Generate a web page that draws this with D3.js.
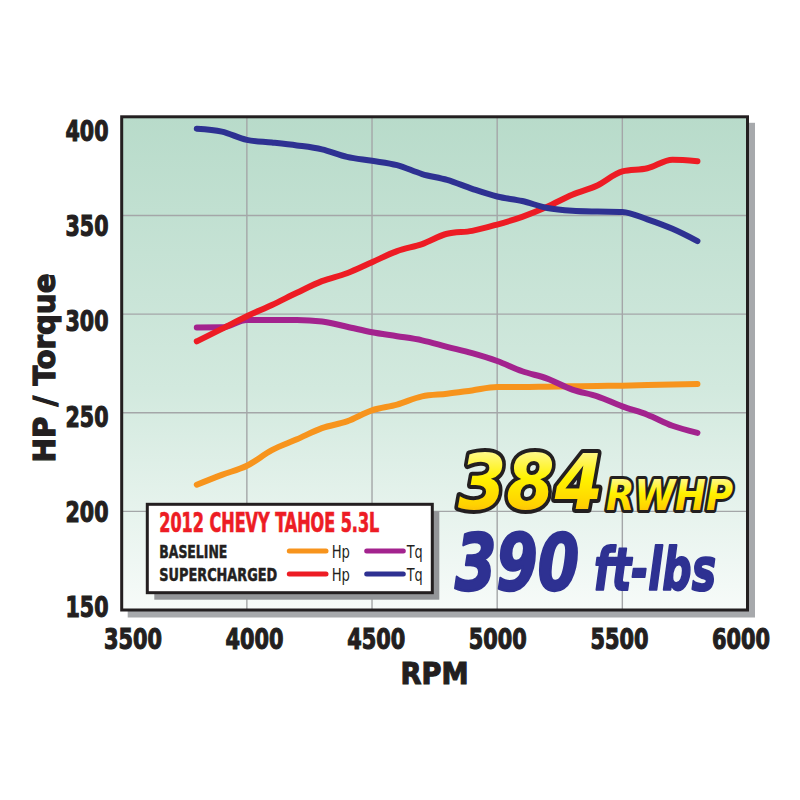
<!DOCTYPE html>
<html>
<head>
<meta charset="utf-8">
<script src="https://cdn.jsdelivr.net/npm/d3@7"></script>
<style>
  html, body { margin: 0; padding: 0; background: #ffffff; }
  svg { display: block; }
</style>
</head>
<body>
<svg id="chart" width="800" height="800"></svg>
<script>
// ---------------- DATA ----------------
const rpm = [3800, 3900, 4000, 4100, 4200, 4300, 4400, 4500, 4600, 4700, 4800,
             4900, 5000, 5100, 5200, 5300, 5400, 5500, 5600, 5700, 5800];
const baselineHp = [213.5, 218.5, 223.1, 231.0, 236.5, 242.2, 245.6, 251.2, 254.1, 258.3, 259.6,
                    261.3, 263.0, 263.0, 263.2, 263.4, 263.6, 263.7, 264.0, 264.3, 264.6];
const baselineTq = [293.2, 293.3, 297.0, 297.0, 297.0, 296.2, 293.6, 290.8, 288.8, 286.7, 283.4,
                    280.2, 276.2, 271.0, 267.3, 261.7, 258.3, 253.2, 249.0, 243.4, 239.8];
const superHp = [286.2, 292.5, 298.9, 304.6, 310.8, 316.7, 320.7, 326.3, 331.9, 335.5, 340.7,
                 342.2, 345.4, 349.3, 354.4, 360.5, 365.2, 372.3, 373.9, 378.2, 377.5];
const superTq = [394.0, 392.5, 388.3, 387.0, 385.5, 383.5, 379.7, 377.7, 375.5, 371.0, 368.0,
                 363.5, 359.6, 357.3, 353.8, 352.4, 352.0, 351.8, 348.0, 343.2, 337.0];
const xTicks = [3500, 4000, 4500, 5000, 5500, 6000];
const yTicks = [150, 200, 250, 300, 350, 400];
const chartTitle = "2012 CHEVY TAHOE 5.3L";
const rowLabels = ["BASELINE", "SUPERCHARGED"];
const seriesLabels = ["Hp", "Tq"];
const hpHeadline = "384", hpUnit = "RWHP";
const tqHeadline = "390", tqUnit = "ft-lbs";

// ---------------- LAYOUT ----------------
const svg = d3.select("#chart");
const P = { left: 121.7, right: 747.5, top: 116.8, bottom: 610 };
const x = d3.scaleLinear().domain([3500, 6000]).range([P.left, P.right]);
const y = d3.scaleLinear().domain([150, 400]).range([P.bottom, P.top]);
// tick labels are spread slightly inside the frame in the original artwork
const xLab = d3.scaleLinear().domain([3500, 6000]).range([133, 741]);
const yLab = d3.scaleLinear().domain([150, 400]).range([606.7, 130]);

const condensed = "'Liberation Sans Narrow', 'DejaVu Sans Condensed', 'Roboto', sans-serif";
const heavy = "'DejaVu Sans', 'Roboto', sans-serif";
const ink = "#231f20";

const defs = svg.append("defs");
const bg = defs.append("linearGradient").attr("id", "bg").attr("x1", 0).attr("y1", 0).attr("x2", 0).attr("y2", 1);
bg.append("stop").attr("offset", "0%").attr("stop-color", "#b8dbca");
bg.append("stop").attr("offset", "55%").attr("stop-color", "#d2e9de");
bg.append("stop").attr("offset", "100%").attr("stop-color", "#f7fbf9");
const yel = defs.append("linearGradient").attr("id", "yel").attr("x1", 0).attr("y1", 0).attr("x2", 0).attr("y2", 1);
yel.append("stop").attr("offset", "0%").attr("stop-color", "#fffbd0");
yel.append("stop").attr("offset", "45%").attr("stop-color", "#fff200");
yel.append("stop").attr("offset", "75%").attr("stop-color", "#ffd200");
yel.append("stop").attr("offset", "100%").attr("stop-color", "#f7941d");

// shadow + plot panel
svg.append("rect")
  .attr("x", P.left + 6).attr("y", P.top + 6)
  .attr("width", P.right - P.left + 1.5).attr("height", P.bottom - P.top + 1.5)
  .attr("fill", "#a7a9ac");
svg.append("rect")
  .attr("x", P.left).attr("y", P.top)
  .attr("width", P.right - P.left).attr("height", P.bottom - P.top)
  .attr("fill", "url(#bg)");

// grid
const grid = svg.append("g").attr("stroke", "#a4a6a8").attr("stroke-width", 1.4);
grid.selectAll("line.gx").data(xTicks.slice(1, -1)).join("line")
  .attr("x1", d => x(d)).attr("x2", d => x(d)).attr("y1", P.top).attr("y2", P.bottom);
grid.selectAll("line.gy").data(yTicks.slice(1, -1)).join("line")
  .attr("y1", d => y(d)).attr("y2", d => y(d)).attr("x1", P.left).attr("x2", P.right);

// series
const series = [
  { vals: baselineHp, color: "#f7941d" },
  { vals: baselineTq, color: "#a3238e" },
  { vals: superHp, color: "#ed1c24" },
  { vals: superTq, color: "#2e3192" }
];
const line = d3.line().x(d => x(d[0])).y(d => y(d[1])).curve(d3.curveMonotoneX);
svg.append("g").selectAll("path").data(series).join("path")
  .attr("d", s => line(rpm.map((r, i) => [r, s.vals[i]])))
  .attr("fill", "none").attr("stroke", s => s.color)
  .attr("stroke-width", 6).attr("stroke-linecap", "round").attr("stroke-linejoin", "round");

// frame
svg.append("rect")
  .attr("x", P.left).attr("y", P.top)
  .attr("width", P.right - P.left).attr("height", P.bottom - P.top)
  .attr("fill", "none").attr("stroke", ink).attr("stroke-width", 3);

// tick labels
svg.append("g").selectAll("text").data(xTicks).join("text")
  .attr("x", d => xLab(d)).attr("y", 649)
  .attr("text-anchor", "middle")
  .attr("font-family", condensed).attr("font-weight", "bold").attr("font-size", 29)
  .attr("fill", ink).attr("stroke", ink).attr("stroke-width", 1.1)
  .attr("textLength", 58).attr("lengthAdjust", "spacingAndGlyphs")
  .text(d => d);
svg.append("g").selectAll("text").data(yTicks).join("text")
  .attr("x", 108.5).attr("y", d => yLab(d) + 10.5)
  .attr("text-anchor", "end")
  .attr("font-family", condensed).attr("font-weight", "bold").attr("font-size", 29)
  .attr("fill", ink).attr("stroke", ink).attr("stroke-width", 1.1)
  .attr("textLength", 43).attr("lengthAdjust", "spacingAndGlyphs")
  .text(d => d);

// axis titles
svg.append("text")
  .attr("x", 434.5).attr("y", 684)
  .attr("text-anchor", "middle")
  .attr("font-family", heavy).attr("font-weight", "bold").attr("font-size", 30)
  .attr("fill", ink).attr("stroke", ink).attr("stroke-width", 1.2)
  .attr("textLength", 68).attr("lengthAdjust", "spacingAndGlyphs")
  .text("RPM");
svg.append("text")
  .attr("transform", "translate(55,368) rotate(-90)")
  .attr("text-anchor", "middle")
  .attr("font-family", heavy).attr("font-weight", "bold").attr("font-size", 30)
  .attr("fill", ink).attr("stroke", ink).attr("stroke-width", 1.2)
  .attr("textLength", 189).attr("lengthAdjust", "spacingAndGlyphs")
  .text("HP / Torque");

// legend
const L = { x: 147.3, y: 504.3, w: 285, h: 88.4 };
svg.append("rect").attr("x", L.x + 7).attr("y", L.y + 7).attr("width", L.w).attr("height", L.h)
  .attr("fill", "#939598");
svg.append("rect").attr("x", L.x).attr("y", L.y).attr("width", L.w).attr("height", L.h)
  .attr("fill", "#ffffff").attr("stroke", ink).attr("stroke-width", 3);
svg.append("text").attr("x", 159.3).attr("y", 532)
  .attr("font-family", condensed).attr("font-weight", "bold").attr("font-size", 26)
  .attr("fill", "#ed1c24").attr("stroke", "#ed1c24").attr("stroke-width", 0.7)
  .attr("textLength", 220).attr("lengthAdjust", "spacingAndGlyphs")
  .text(chartTitle);
const rowY = [551, 574];
const rowW = [68, 118];
const legendColors = [[series[0].color, series[1].color], [series[2].color, series[3].color]];
rowLabels.forEach((lab, r) => {
  svg.append("text").attr("x", 159.3).attr("y", rowY[r] + 7.3)
    .attr("font-family", condensed).attr("font-weight", "bold").attr("font-size", 18.5)
    .attr("fill", ink).attr("stroke", ink).attr("stroke-width", 0.5)
    .attr("textLength", rowW[r]).attr("lengthAdjust", "spacingAndGlyphs")
    .text(lab);
  [[289.3, 326, 331.7, 18.3], [366.7, 403.3, 406.7, 16]].forEach((c, k) => {
    svg.append("line").attr("x1", c[0]).attr("x2", c[1]).attr("y1", rowY[r]).attr("y2", rowY[r])
      .attr("stroke", legendColors[r][k]).attr("stroke-width", 5).attr("stroke-linecap", "round");
    svg.append("text").attr("x", c[2]).attr("y", rowY[r] + 7.3)
      .attr("font-family", condensed).attr("font-size", 18.5)
      .attr("fill", ink).attr("textLength", c[3]).attr("lengthAdjust", "spacingAndGlyphs")
      .text(seriesLabels[k]);
  });
});

// headline figures
const big = "'DejaVu Sans', 'Roboto', sans-serif";
svg.append("text").attr("x", 458).attr("y", 509)
  .attr("font-family", big).attr("font-weight", "bold").attr("font-style", "italic").attr("font-size", 76)
  .attr("fill", "url(#yel)").attr("stroke", ink).attr("stroke-width", 8)
  .attr("stroke-linejoin", "round").attr("paint-order", "stroke")
  .attr("textLength", 145).attr("lengthAdjust", "spacingAndGlyphs")
  .text(hpHeadline);
svg.append("text").attr("x", 606).attr("y", 510)
  .attr("font-family", big).attr("font-weight", "bold").attr("font-style", "italic").attr("font-size", 42)
  .attr("fill", "url(#yel)").attr("stroke", ink).attr("stroke-width", 6)
  .attr("stroke-linejoin", "round").attr("paint-order", "stroke")
  .attr("textLength", 127).attr("lengthAdjust", "spacingAndGlyphs")
  .text(hpUnit);
svg.append("text").attr("x", 455).attr("y", 590)
  .attr("font-family", big).attr("font-weight", "bold").attr("font-style", "italic").attr("font-size", 78)
  .attr("fill", "#2e3192").attr("stroke", "#2e3192").attr("stroke-width", 2.5).attr("stroke-linejoin", "round")
  .attr("textLength", 124).attr("lengthAdjust", "spacingAndGlyphs")
  .text(tqHeadline);
svg.append("text").attr("x", 594).attr("y", 590)
  .attr("font-family", big).attr("font-weight", "bold").attr("font-style", "italic").attr("font-size", 58)
  .attr("fill", "#2e3192").attr("stroke", "#2e3192").attr("stroke-width", 2).attr("stroke-linejoin", "round")
  .attr("textLength", 122).attr("lengthAdjust", "spacingAndGlyphs")
  .text(tqUnit);
</script>
</body>
</html>
